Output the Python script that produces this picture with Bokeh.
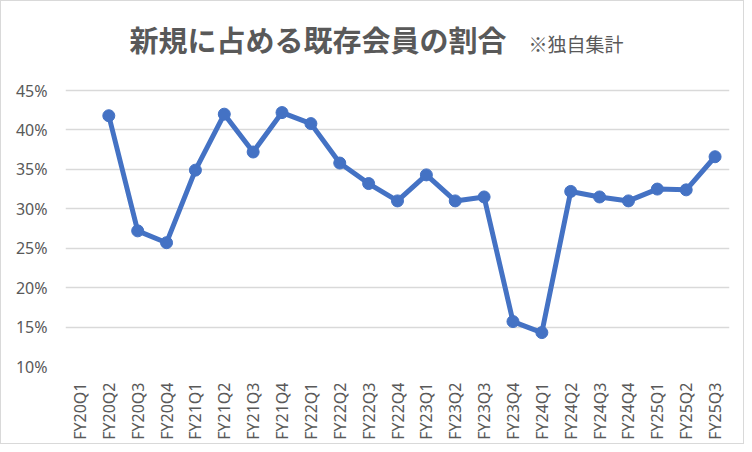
import math
from bokeh.plotting import figure
from bokeh.models import Range1d, Label, FixedTicker, CustomJSTickFormatter
from bokeh.embed import file_html
from bokeh.resources import INLINE

quarters = ["FY20Q1", "FY20Q2", "FY20Q3", "FY20Q4",
            "FY21Q1", "FY21Q2", "FY21Q3", "FY21Q4",
            "FY22Q1", "FY22Q2", "FY22Q3", "FY22Q4",
            "FY23Q1", "FY23Q2", "FY23Q3", "FY23Q4",
            "FY24Q1", "FY24Q2", "FY24Q3", "FY24Q4",
            "FY25Q1", "FY25Q2", "FY25Q3"]
share_pct = [float("nan"), 41.8, 27.2, 25.7,
             34.9, 42.0, 37.2, 42.2,
             40.8, 35.8, 33.2, 31.0,
             34.3, 31.0, 31.5, 15.7,
             14.3, 32.2, 31.5, 31.0,
             32.5, 32.4, 36.6]
y_ticks = [10, 15, 20, 25, 30, 35, 40, 45]
title_main = "新規に占める既存会員の割合"
title_note = "※独自集計"

GRAY = "#595959"
BLUE = "#4472C4"

W, H = 744, 444
FRAME_LEFT, FRAME_RIGHT, FRAME_BOTTOM = 64, 728, 365
PX_PER_PCT = 276 / 35.0          # 45%..10% gridlines span 276 px
y_top = 10 + FRAME_BOTTOM / PX_PER_PCT   # frame reaches the top edge; title sits inside it

p = figure(x_range=quarters, y_range=Range1d(10, y_top),
           width=W, height=H, output_backend="svg", toolbar_location=None,
           min_border_left=FRAME_LEFT, min_border_right=W - FRAME_RIGHT,
           min_border_top=0, min_border_bottom=H - FRAME_BOTTOM)
p.outline_line_color = None
p.background_fill_color = "white"
p.border_fill_color = "white"
p.styles = {"border": "1px solid #d9d9d9", "box-sizing": "border-box"}

p.line(quarters, share_pct, line_color=BLUE, line_width=5, line_join="round")
p.scatter(quarters, share_pct, size=12, fill_color=BLUE, line_color=BLUE)

p.xgrid.grid_line_color = None
p.ygrid.grid_line_color = "#D9D9D9"
p.ygrid.grid_line_width = 1.5

p.yaxis.ticker = FixedTicker(ticks=y_ticks)
p.yaxis.formatter = CustomJSTickFormatter(code="return tick.toFixed(0) + '%';")
for ax in (p.xaxis[0], p.yaxis[0]):
    ax.axis_line_color = None
    ax.major_tick_line_color = None
    ax.minor_tick_line_color = None
    ax.major_label_text_color = GRAY
    ax.major_label_text_font = "Noto Sans"
    ax.major_label_text_font_size = "16px"
p.yaxis.major_label_standoff = 12
p.xaxis.major_label_standoff = 10
p.xaxis.major_label_orientation = math.pi / 2

def y_at(px_from_top):
    return 10 + (FRAME_BOTTOM - px_from_top) / PX_PER_PCT

p.add_layout(Label(x=128 - FRAME_LEFT, y=y_at(37), x_units="screen", y_units="data",
                   text=title_main, text_font="Noto Sans CJK JP",
                   text_font_style="bold", text_font_size="29px",
                   text_color=GRAY, text_baseline="middle", text_align="left"))
p.add_layout(Label(x=527 - FRAME_LEFT, y=y_at(42), x_units="screen", y_units="data",
                   text=title_note, text_font="Noto Sans CJK JP",
                   text_font_size="19px",
                   text_color=GRAY, text_baseline="middle", text_align="left"))

open("out.html", "w").write(file_html(p, INLINE))
